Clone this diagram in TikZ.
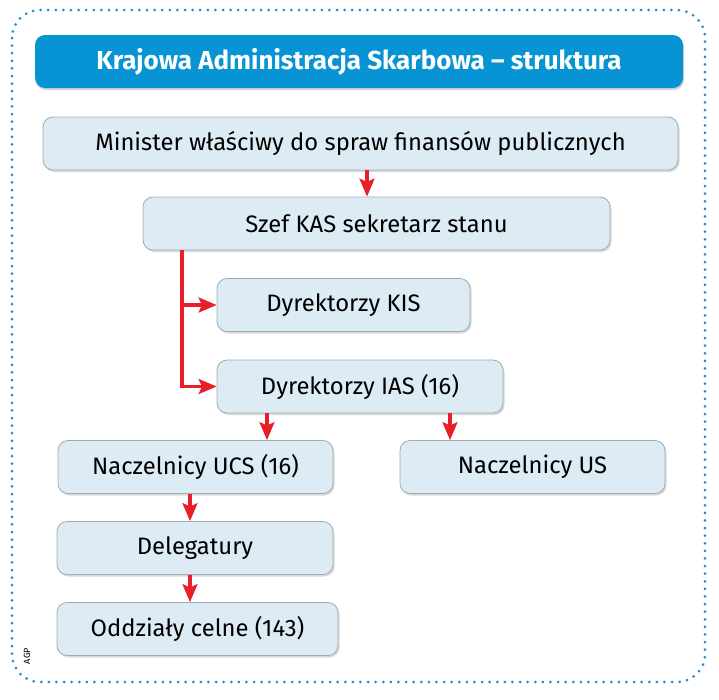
\documentclass[tikz,border=0pt]{standalone}
\usepackage{fontspec}
\setmainfont{Fira Sans}
\usepackage{xcolor}
\usepackage{tikz}
\usetikzlibrary{positioning}
\usetikzlibrary{arrows.meta}
\usetikzlibrary{shadows}

\definecolor{kasblue}{RGB}{8,148,212}
\definecolor{boxfill}{RGB}{221,235,245}
\definecolor{boxline}{RGB}{160,172,180}
\definecolor{kasred}{RGB}{232,30,40}
\definecolor{dotblue}{RGB}{30,140,205}

\tikzset{
  unit/.style={draw=boxline, line width=0.8pt, fill=boxfill, rounded corners=10pt,
    minimum height=53pt, inner sep=0pt, font=\fontsize{23.8}{26}\selectfont,
    drop shadow={shadow xshift=1.5pt, shadow yshift=-2pt, opacity=.3}},
  heading/.style={fill=kasblue, rounded corners=10pt, minimum height=53pt,
    minimum width=648pt, text=white, font=\fontsize{26}{30}\selectfont\bfseries,
    drop shadow={shadow xshift=1pt, shadow yshift=-2pt, opacity=.35}},
  arr/.style={draw=kasred, line width=3.2pt,
    -{Stealth[length=18pt, width=15pt, inset=3.5pt]}, color=kasred}
}

\begin{document}
\begin{tikzpicture}[x=1pt, y=-1pt]
        \useasboundingbox (0,0) rectangle (719,699);

        % Dotted frame
        \draw[dotblue, line width=3pt, line cap=round, dash pattern=on 0pt off 7.6pt,
          rounded corners=28pt] (12,10) rectangle (705,682);

        % Title
        \node[heading] (title) at (359,61.5) {Krajowa Administracja Skarbowa – struktura};

        % Boxes
        \node[unit, minimum width=635pt] (minister) at (360.5,143.5) {Minister właściwy do spraw finansów publicznych};
        \node[unit, minimum width=467pt] (szef) at (376.5,223.5) {Szef KAS sekretarz stanu};
        \node[unit, minimum width=253pt] (kis) at (343.5,305) {Dyrektorzy KIS};
        \node[unit, minimum width=286pt] (ias) at (360,386.5) {Dyrektorzy IAS (16)};
        \node[unit, minimum width=275pt] (ucs) at (195.5,467) {Naczelnicy UCS (16)};
        \node[unit, minimum width=265pt] (us) at (532.5,467) {Naczelnicy US};
        \node[unit, minimum width=276pt] (deleg) at (195,548) {Delegatury};
        \node[unit, minimum width=281pt] (oddz) at (197.5,629) {Oddziały celne (143)};

        % Arrows
        \coordinate (mx) at (367,0);
        \coordinate (trunk) at (182,0);
        \coordinate (ux) at (267,0);
        \coordinate (sx) at (450,0);
        \coordinate (dx) at (190,0);
        \draw[arr] (minister.south -| mx) -- (szef.north -| mx);
        \draw[arr] (szef.south -| trunk) |- (kis.west);
        \draw[arr] (szef.south -| trunk) |- (ias.west);
        \draw[arr] (ias.south -| ux) -- (ucs.north -| ux);
        \draw[arr] (ias.south -| sx) -- (us.north -| sx);
        \draw[arr] (ucs.south -| dx) -- (deleg.north -| dx);
        \draw[arr] (deleg.south -| dx) -- (oddz.north -| dx);

        \node[rotate=90, font=\fontsize{9}{10}\selectfont] (agp) at (27,656) {AGP};
    \end{tikzpicture}
\end{document}
